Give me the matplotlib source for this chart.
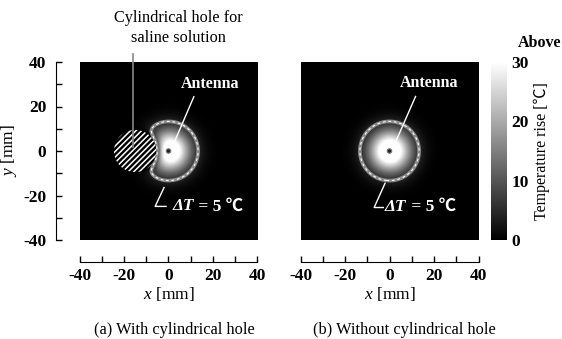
import numpy as np
import matplotlib
matplotlib.use("Agg")
import matplotlib.pyplot as plt
from matplotlib.patches import Circle

plt.rcParams['font.family'] = ['Liberation Serif', 'Noto Sans CJK JP']
plt.rcParams['mathtext.fontset'] = 'custom'
plt.rcParams['mathtext.rm'] = 'Liberation Serif'
plt.rcParams['mathtext.it'] = 'Liberation Serif:italic'
plt.rcParams['mathtext.bf'] = 'Liberation Serif:bold'
plt.rcParams['hatch.linewidth'] = 1.1
plt.rcParams['axes.unicode_minus'] = False

# ---- data ----
axis_limits = [-40, 40]
x_ticks = [-40, -20, 0, 20, 40]
y_ticks = [-40, -20, 0, 20, 40]
cbar_ticks = [0, 10, 20, 30]
cbar_range = [0, 30]
contour_level = 5          # degC
peak_rise = 40.0           # degC at antenna
heat_scale = 9.22          # mm
heat_shape = 2.0
hole_center = (-15.0, 0.0)
hole_radius = 9.5          # mm
hole_cooling_width = 2.0   # mm
antenna_pos = (0.0, 0.0)
captions = ["(a) With cylindrical hole", "(b) Without cylindrical hole"]

# ---- field ----
g = np.linspace(-40, 40, 401)
X, Y = np.meshgrid(g, g)
R = np.hypot(X - antenna_pos[0], Y - antenna_pos[1])
T_b = peak_rise * np.exp(-(R / heat_scale) ** heat_shape)
D = np.hypot(X - hole_center[0], Y - hole_center[1])
fac = np.where(D > hole_radius, 1 - np.exp(-(D - hole_radius) / hole_cooling_width), 0.0)
T_a = T_b * fac

W, H = 562, 339
fig = plt.figure(figsize=(W / 100, H / 100), dpi=100)

def fx(px):
    return px / W

def fy(py):
    return 1 - py / H

ax_w = 179
top, bot = 62, 240
axa = fig.add_axes([fx(79), fy(bot), ax_w / W, (bot - top) / H])
axb = fig.add_axes([fx(300), fy(bot), ax_w / W, (bot - top) / H])
cax = fig.add_axes([fx(491), fy(bot), 16 / W, (bot - top) / H])

for ax, T in ((axa, T_a), (axb, T_b)):
    im = ax.imshow(T, extent=[-40, 40, -40, 40], origin='lower', cmap='gray',
                   vmin=cbar_range[0], vmax=cbar_range[1], interpolation='bilinear')
    ax.contour(X, Y, T, levels=[contour_level], colors='#8a8a8a', linewidths=2.6)
    ax.contour(X, Y, T, levels=[contour_level], colors='white', linewidths=0.8,
               linestyles=[(0, (2.5, 2.5))])
    ax.set_xlim(axis_limits)
    ax.set_ylim(axis_limits)
    ax.spines['top'].set_visible(False)
    ax.spines['right'].set_visible(False)
    ax.spines['bottom'].set_position(('outward', 16))
    ax.spines['left'].set_position(('outward', 17))
    ax.set_xticks(x_ticks)
    ax.set_xticks(np.arange(-40, 41, 10), minor=True)
    ax.set_yticks(y_ticks)
    ax.set_yticks(np.arange(-40, 41, 10), minor=True)
    ax.tick_params(which='both', direction='in', length=4, width=1)
    ax.tick_params(axis='x', which='major', labelsize=12.5, pad=4)
    ax.tick_params(axis='y', which='major', labelsize=12.5, pad=7)
    for lab in ax.get_xticklabels() + ax.get_yticklabels():
        lab.set_fontweight('bold')
    ax.set_xlabel(r'$x$ [mm]', fontsize=12.5, labelpad=1)
    # antenna dot
    ax.add_patch(Circle(antenna_pos, 1.0, facecolor='#222222', edgecolor='#777777', lw=0.8, zorder=5))

# panel b: no y axis
axb.spines['left'].set_visible(False)
axb.tick_params(axis='y', which='both', left=False, labelleft=False)

axa.set_ylabel(r'$y$ [mm]', fontsize=12.5, labelpad=3)

# hole
axa.add_patch(Circle(hole_center, hole_radius, facecolor='black', edgecolor='white',
                     hatch='//////', lw=0, zorder=4))

# annotations
def annot_antenna(ax, txt_xy, p0, p1):
    ax.text(txt_xy[0], txt_xy[1], 'Antenna', color='white', fontsize=11.5,
            fontweight='bold', ha='center', va='center', zorder=6)
    ax.plot([p0[0], p1[0]], [p0[1], p1[1]], color='white', lw=1, zorder=6)

def annot_dt(ax, pts, txt_xy):
    ax.plot([p[0] for p in pts], [p[1] for p in pts], color='white', lw=1, zorder=6)
    t1 = ax.text(txt_xy[0], txt_xy[1], 'ΔT', color='white', fontsize=12.5,
                 fontweight='bold', fontstyle='italic', ha='left', va='center', zorder=6)
    ax.annotate(' = 5 ℃', xy=(1, 0.5), xycoords=t1, color='white', fontsize=12.5,
                fontweight='bold', ha='left', va='center', zorder=6)

annot_antenna(axa, (18.5, 30.2), (11.4, 24.4), (1.6, 1.6))
annot_antenna(axb, (17.7, 30.6), (11.7, 24.5), (2.9, 4.4))
annot_dt(axa, [(-2.0, -16.4), (-6.0, -24.9), (-1.1, -24.9)], (2.0, -24.9))
annot_dt(axb, [(-2.0, -14.5), (-6.9, -25.4), (-2.8, -25.4)], (-2.0, -25.2))

# hole callout
axa.plot([-15.9, -15.9], [43.5, 1.6], color='#888888', lw=1.2, clip_on=False, zorder=6)
fig.text(fx(178), fy(28), 'Cylindrical hole for\nsaline solution', fontsize=11.7,
         ha='center', va='center', linespacing=1.25)

# captions
fig.text(fx(174), fy(330), captions[0], fontsize=11.8, ha='center', va='center')
fig.text(fx(404), fy(330), captions[1], fontsize=11.8, ha='center', va='center')

# colorbar
cb = fig.colorbar(im, cax=cax, ticks=cbar_ticks)
cb.outline.set_visible(False)
cax.tick_params(length=0, pad=3, labelsize=12.5)
for lab in cax.get_yticklabels():
    lab.set_fontweight('bold')
cb.set_label('Temperature rise [℃]', fontsize=11.5, labelpad=4)
fig.text(fx(540), fy(43), 'Above', fontsize=11.5, fontweight='bold', ha='center', va='center')

fig.savefig('out.png', dpi=100)
